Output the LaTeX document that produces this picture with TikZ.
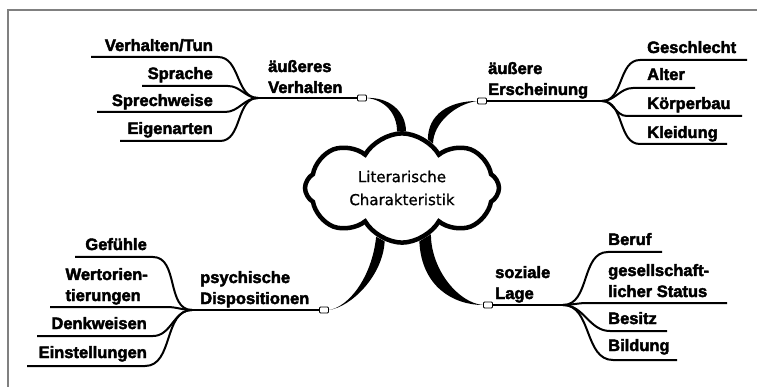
\documentclass[tikz,border=0pt]{standalone}
\usepackage{fontspec}
\setmainfont{Liberation Sans}
\newfontfamily\leaffont{Liberation Sans Bold}[FakeBold=2.6]
\newfontfamily\cloudfont{DejaVu Sans}[FakeBold=0.8]
\usetikzlibrary{shapes.symbols,backgrounds}

\tikzset{
    leaf/.style={inner sep=0pt, font=\leaffont\fontsize{16.5}{21}\selectfont},
    twig/.style={draw=black, line width=2pt},
    branch/.style={draw=black, line width=1.5pt},
    stem/.style={fill=black}
}

\begin{document}
\begin{tikzpicture}[x=1pt,y=-1pt]
    \useasboundingbox (0,0) rectangle (757,387);

    % frame (only top and left edge show)
    \draw[gray, line width=2pt] (8,387) -- (8,10) -- (757,10);

    % the cloud in the middle
    \node[cloud, cloud puffs=8, cloud puff arc=120, aspect=1.8, draw, fill=white,
          line width=4.5pt, minimum width=194pt, minimum height=108pt, inner sep=0pt,
          align=center, font=\cloudfont\fontsize{15}{23}\selectfont]
          (Z) at (402,188) {Literarische\\Charakteristik};

    % little boxes at the end of the stems
    \begin{scope}[every node/.style={draw, fill=white, rounded corners=1pt, line width=0.8pt,
                  minimum width=9pt, minimum height=6pt, inner sep=0pt}]
    \node (VR) at (362,98) {};
    \node (ER) at (482,101) {};
    \node (PR) at (324,310) {};
    \node (SR) at (488,305) {};
    \end{scope}

    % stems (tapered), behind the cloud
    \begin{scope}[on background layer]
    \fill[stem] (VR.east) .. controls +(22,-1) and +(0,-20) .. (Z.86) -- (Z.95)
        .. controls +(0,-18) and +(18,2) .. (VR.east) -- cycle;
    \fill[stem] (ER.west) .. controls +(-28,0) and +(0,-25) .. (Z.62) -- (Z.55)
        .. controls +(0,-20) and +(-22,3) .. (ER.west) -- cycle;
    \fill[stem] (Z.242) .. controls +(-4,40) and +(20,-3) .. (PR.east)
        .. controls +(22,-3) and +(-2,35) .. (Z.252) -- cycle;
    \fill[stem] (Z.288) .. controls +(2,45) and +(-30,0) .. (SR.west)
        .. controls +(-25,-2) and +(0,35) .. (Z.302) -- cycle;
    \end{scope}

    % junctions
    \coordinate (VJ) at (258,98);
    \coordinate (EJ) at (602,101);
    \coordinate (PJ) at (192,310);
    \coordinate (SJ) at (563,305);

    \path[branch] (VR.west) -- (VJ);
    \path[branch] (ER.east) -- (EJ);
    \path[branch] (PR.west) -- (PJ);
    \path[branch] (SR.east) -- (SJ);

    % branch labels (base = last line)
    \begin{scope}[every node/.style={leaf, anchor=base west, align=left}]
    \node (VL) at (268,93) {äußeres\\Verhalten};
    \node (EL) at (488,95) {äußere\\Erscheinung};
    \node (PL) at (200,304) {psychische\\Dispositionen};
    \node (SL) at (495,299) {soziale\\Lage};
    \end{scope}

    % äußeres Verhalten
    \begin{scope}[every node/.style={leaf, anchor=base east, align=left}]
    \node (tun) at (213,51) {Verhalten/Tun};
    \node (spr) at (213,79) {Sprache};
    \node (swe) at (213,106) {Sprechweise};
    \node (eig) at (213,134) {Eigenarten};
    \end{scope}
    \coordinate (tunR) at (218,57);  \coordinate (tunL) at (91,57);
    \coordinate (sprR) at (228,86);  \coordinate (sprL) at (142,86);
    \coordinate (sweR) at (225,112); \coordinate (sweL) at (97,112);
    \coordinate (eigR) at (220,141); \coordinate (eigL) at (120,141);
    \draw[twig] (VJ) to[out=180,in=0] (tunR) -- (tunL);
    \draw[twig] (VJ) to[out=180,in=0] (sprR) -- (sprL);
    \draw[twig] (VJ) to[out=180,in=0] (sweR) -- (sweL);
    \draw[twig] (VJ) to[out=180,in=0] (eigR) -- (eigL);

    % äußere Erscheinung
    \begin{scope}[every node/.style={leaf, anchor=base west, align=left}]
    \node (ges) at (647,53) {Geschlecht};
    \node (alt) at (647,80) {Alter};
    \node (kor) at (647,109) {Körperbau};
    \node (kle) at (647,138) {Kleidung};
    \end{scope}
    \coordinate (gesL) at (640,60);  \coordinate (gesR) at (747,60);
    \coordinate (altL) at (633,88);  \coordinate (altR) at (695,88);
    \coordinate (korL) at (627,116); \coordinate (korR) at (742,116);
    \coordinate (kleL) at (640,144); \coordinate (kleR) at (727,144);
    \draw[twig] (EJ) to[out=0,in=180] (gesL) -- (gesR);
    \draw[twig] (EJ) to[out=0,in=180] (altL) -- (altR);
    \draw[twig] (EJ) to[out=0,in=180] (korL) -- (korR);
    \draw[twig] (EJ) to[out=0,in=180] (kleL) -- (kleR);

    % psychische Dispositionen
    \begin{scope}[every node/.style={leaf, anchor=base east, align=left}]
    \node (gef) at (147,250) {Gefühle};
    \node (wer) at (148,301) {Wertorien-\\tierungen};
    \node (den) at (147,329) {Denkweisen};
    \node (ein) at (147,358) {Einstellungen};
    \end{scope}
    \coordinate (gefR) at (153,257); \coordinate (gefL) at (75,257);
    \coordinate (werR) at (167,307); \coordinate (werL) at (50,307);
    \coordinate (denR) at (153,336); \coordinate (denL) at (37,336);
    \coordinate (einR) at (145,366); \coordinate (einL) at (27,366);
    \draw[twig] (PJ) to[out=180,in=0] (gefR) -- (gefL);
    \draw[twig] (PJ) to[out=180,in=0] (werR) -- (werL);
    \draw[twig] (PJ) to[out=180,in=0] (denR) -- (denL);
    \draw[twig] (PJ) to[out=180,in=0] (einR) -- (einL);

    % soziale Lage
    \begin{scope}[every node/.style={leaf, anchor=base west, align=left}]
    \node (ber) at (608,245) {Beruf};
    \node (gst) at (608,297) {gesellschaft-\\licher Status};
    \node (bes) at (608,324) {Besitz};
    \node (bil) at (608,351) {Bildung};
    \end{scope}
    \coordinate (berL) at (608,252); \coordinate (berR) at (662,252);
    \coordinate (gstL) at (587,303); \coordinate (gstR) at (727,303);
    \coordinate (besL) at (610,331); \coordinate (besR) at (667,331);
    \coordinate (bilL) at (613,360); \coordinate (bilR) at (677,360);
    \draw[twig] (SJ) to[out=0,in=180] (berL) -- (berR);
    \draw[twig] (SJ) to[out=0,in=180] (gstL) -- (gstR);
    \draw[twig] (SJ) to[out=0,in=180] (besL) -- (besR);
    \draw[twig] (SJ) to[out=0,in=180] (bilL) -- (bilR);
\end{tikzpicture}
\end{document}
